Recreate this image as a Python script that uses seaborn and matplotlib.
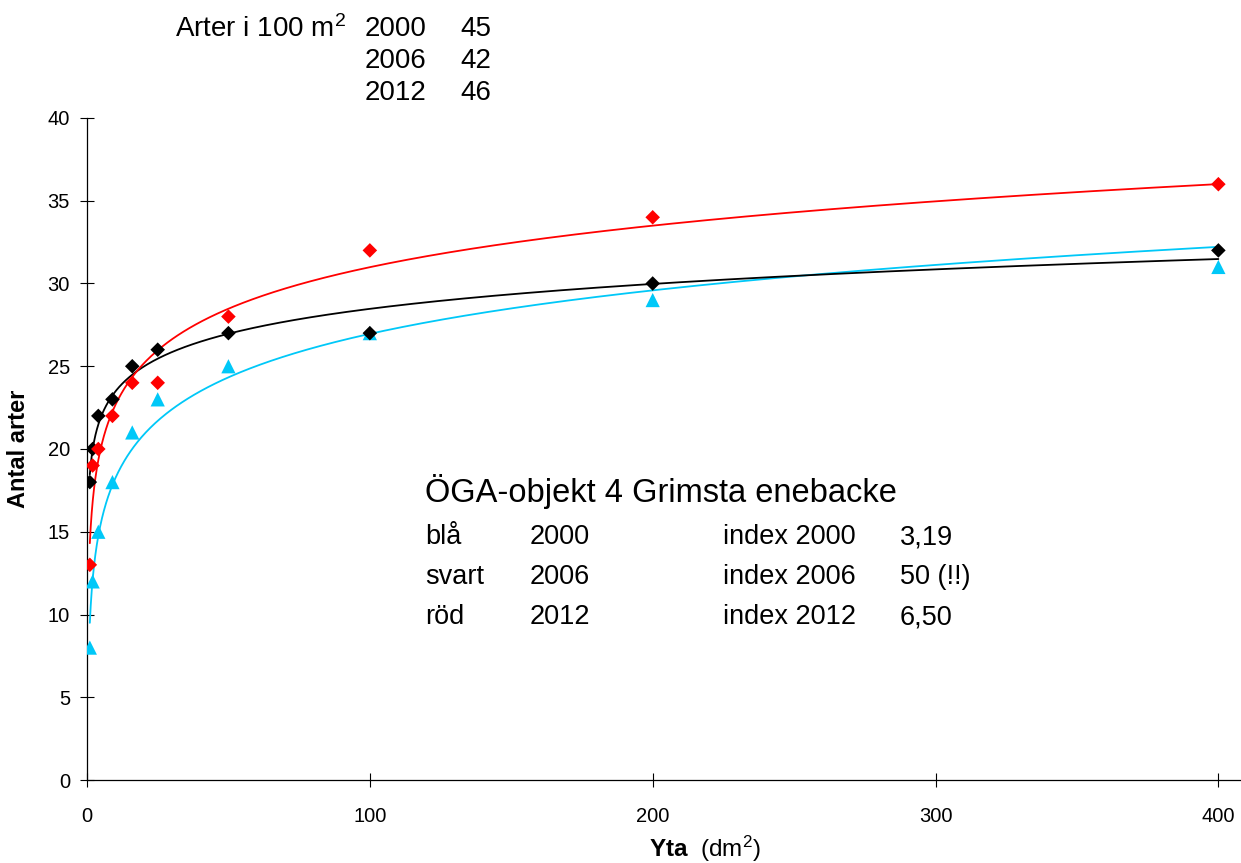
import numpy as np
import pandas as pd
import matplotlib
matplotlib.use("Agg")
import matplotlib.pyplot as plt
import seaborn as sns

# ── Data ──────────────────────────────────────────────────────────────────────
yta = [1, 2, 4, 9, 16, 25, 50, 100, 200, 400]          # dm2
arter_2000 = [8, 12, 15, 18, 21, 23, 25, 27, 29, 31]   # blå
arter_2006 = [18, 20, 22, 23, 25, 26, 27, 27, 30, 32]  # svart
arter_2012 = [13, 19, 20, 22, 24, 24, 28, 32, 34, 36]  # röd

header_years = ["2000", "2006", "2012"]
header_counts = ["45", "42", "46"]
legend_names = ["blå", "svart", "röd"]
index_years = ["index 2000", "index 2006", "index 2012"]
index_values = ["3,19", "50 (!!)", "6,50"]

series = [
    ("2000", arter_2000, "#00C8F8", "^", 105),
    ("2006", arter_2006, "black", "D", 55),
    ("2012", arter_2012, "#FF0000", "D", 55),
]

# ── Style ─────────────────────────────────────────────────────────────────────
sns.set_theme(style="ticks")
plt.rcParams["font.family"] = ["Liberation Sans", "DejaVu Sans"]
plt.rcParams["mathtext.fontset"] = "custom"
plt.rcParams["mathtext.rm"] = "Liberation Sans"
plt.rcParams["mathtext.bf"] = "Liberation Sans:bold"
plt.rcParams["mathtext.it"] = "Liberation Sans:italic"
plt.rcParams["text.color"] = "black"
plt.rcParams["axes.labelcolor"] = "black"

W, H = 1241, 863
fig = plt.figure(figsize=(W / 100, H / 100), dpi=100)
ax = fig.add_axes([87 / W, (H - 780) / H, (W - 87) / W, (780 - 118) / H])

# ── Log trendlines (least squares on ln x) + markers ─────────────────────────
x = np.asarray(yta, dtype=float)
xs = np.geomspace(x.min(), x.max(), 400)
for name, vals, color, marker, size in series:
    b, a = np.polyfit(np.log(x), np.asarray(vals, dtype=float), 1)
    ax.plot(xs, a + b * np.log(xs), color=color, lw=1.3, zorder=2)
for name, vals, color, marker, size in series:
    df = pd.DataFrame({"yta": yta, "arter": vals})
    sns.scatterplot(data=df, x="yta", y="arter", marker=marker, s=size,
                    color=color, edgecolor="none", ax=ax, zorder=3,
                    legend=False)

# ── Axes ──────────────────────────────────────────────────────────────────────
ax.set_xlim(0, 408)
ax.set_ylim(0, 40)
ax.set_xticks([0, 100, 200, 300, 400])
ax.set_yticks(range(0, 41, 5))
sns.despine(ax=ax)
for s in ("left", "bottom"):
    ax.spines[s].set_linewidth(0.9)
    ax.spines[s].set_color("black")
ax.tick_params(direction="inout", length=9.5, width=0.8, colors="black",
               labelsize=14.5)
ax.tick_params(axis="x", pad=15)
ax.tick_params(axis="y", pad=7.5)
ax.set_xlabel(r"$\mathbf{Yta}$  (dm$^{2}$)", fontsize=17.5)
ax.xaxis.set_label_coords((705 - 87) / (W - 87), -(834 - 780) / (780 - 118))
ax.set_ylabel("Antal arter", fontsize=17, fontweight="bold")
ax.yaxis.set_label_coords(-(87 - 30) / (W - 87), 0.5)

# ── Text blocks ───────────────────────────────────────────────────────────────
def ftext(px, py, s, size=19.5, **kw):
    fig.text(px / W, 1 - py / H, s, fontsize=size, ha="left", va="center", **kw)

ftext(175, 29, r"Arter i 100 m$^{2}$", size=20)
for i, (yr, n) in enumerate(zip(header_years, header_counts)):
    ftext(365, 29 + 32 * i, yr, size=20)
    ftext(460, 29 + 32 * i, n, size=20)

ftext(425, 491, "ÖGA-objekt 4 Grimsta enebacke", size=23.5)
for i in range(3):
    py = 537 + 40 * i
    ftext(425, py, legend_names[i])
    ftext(530, py, header_years[i])
    ftext(723, py, index_years[i])
    ftext(900, py, index_values[i])

fig.savefig("out.png", dpi=100)
